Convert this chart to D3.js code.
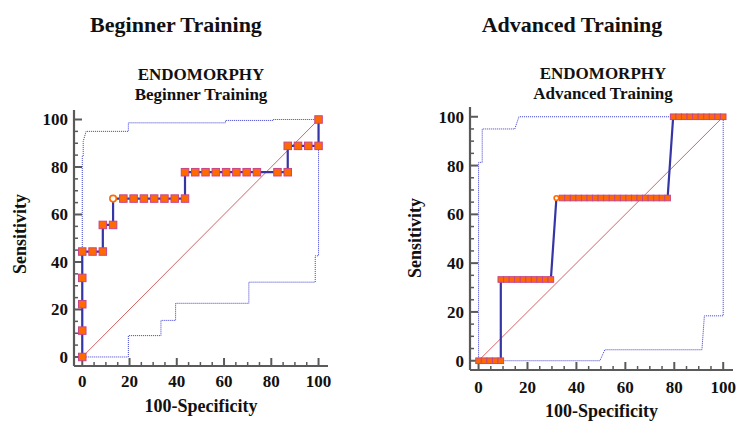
<!DOCTYPE html>
<html lang="en">
<head>
<meta charset="UTF-8">
<title>ROC Endomorphy</title>
<script src="https://d3js.org/d3.v7.min.js"></script>
<style>
  body { margin: 0; background: #fff; }
  text { font-family: "Liberation Serif", "Times New Roman", serif; font-weight: bold; fill: #111; }
</style>
</head>
<body>
<div id="chart"></div>
<script>
// ---- data ----
var panelTitles = ["Beginner Training", "Advanced Training"];
var plotTitle = "ENDOMORPHY";
var xTicks = [0, 20, 40, 60, 80, 100];
var yTicks = [0, 20, 40, 60, 80, 100];

// Beginner: ROC points (100-Specificity, Sensitivity)
var begX = [0, 0, 0, 0, 0, 4.35, 8.7, 8.7, 13.04, 13.04, 17.39, 21.74, 26.09, 30.43, 34.78, 39.13,
            43.48, 43.48, 47.83, 52.17, 56.52, 60.87, 65.22, 69.57, 73.91, 82.61, 86.96,
            86.96, 91.3, 95.65, 100, 100];
var begY = [0, 11.1, 22.2, 33.3, 44.4, 44.4, 44.4, 55.6, 55.6, 66.7, 66.7, 66.7, 66.7, 66.7, 66.7, 66.7,
            66.7, 77.8, 77.8, 77.8, 77.8, 77.8, 77.8, 77.8, 77.8, 77.8, 77.8,
            88.9, 88.9, 88.9, 88.9, 100];
var begBest = 9;
var begUpX = [0, 0, 0.4, 0.4, 1.6, 19.5, 19.5, 60.6, 60.6, 80.7, 80.7, 100];
var begUpY = [0, 84.5, 84.5, 90.8, 95, 95, 98.6, 98.6, 99.6, 99.6, 100, 100];
var begLoX = [0, 19.5, 19.5, 33.3, 33.3, 39.5, 39.5, 70.5, 70.5, 98.6, 98.6, 100, 100];
var begLoY = [0, 0, 9, 9, 15.4, 15.4, 22.6, 22.6, 31.5, 31.5, 42.6, 42.6, 100];

// Advanced: ROC points
var advX = [0, 2.27, 4.55, 6.82, 9.09,
            9.09, 11.36, 13.64, 15.91, 18.18, 20.45, 22.73, 25, 27.27, 29.55,
            31.82, 34.09, 36.36, 38.64, 40.91, 43.18, 45.45, 47.73, 50, 52.27, 54.55,
            56.82, 59.09, 61.36, 63.64, 65.91, 68.18, 70.45, 72.73, 75, 77.27,
            79.55, 81.82, 84.09, 86.36, 88.64, 90.91, 93.18, 95.45, 97.73, 100];
var advY = [0, 0, 0, 0, 0,
            33.3, 33.3, 33.3, 33.3, 33.3, 33.3, 33.3, 33.3, 33.3, 33.3,
            66.7, 66.7, 66.7, 66.7, 66.7, 66.7, 66.7, 66.7, 66.7, 66.7, 66.7,
            66.7, 66.7, 66.7, 66.7, 66.7, 66.7, 66.7, 66.7, 66.7, 66.7,
            100, 100, 100, 100, 100, 100, 100, 100, 100, 100];
var advBest = 15;
var advUpX = [0, 0, 1.5, 1.5, 14.8, 16.5, 100];
var advUpY = [0, 81.3, 81.3, 95, 95, 100, 100];
var advLoX = [0, 49.6, 51.6, 91.3, 92.3, 100, 100];
var advLoY = [0, 0, 4.5, 4.5, 18.4, 18.4, 100];

var W = 747, H = 437;
var svg = d3.select("#chart").append("svg")
    .attr("width", W).attr("height", H);

function zip(xs, ys) {
    return xs.map(function (x, i) { return [x, ys[i]]; });
}

function drawPanel(cfg) {
    var x = d3.scaleLinear().domain([-3.5, 104]).range(cfg.xr);
    var y = d3.scaleLinear().domain([-3.8, 104]).range(cfg.yr);
    var g = svg.append("g");
    var line = d3.line().x(function (d) { return x(d[0]); }).y(function (d) { return y(d[1]); });

    // titles
    g.append("text").attr("x", cfg.titleX).attr("y", 32).attr("text-anchor", "middle")
        .style("font-size", "22px").text(cfg.title);
    g.append("text").attr("x", cfg.subX).attr("y", cfg.subY).attr("text-anchor", "middle")
        .style("font-size", "17px").text(plotTitle);
    g.append("text").attr("x", cfg.subX).attr("y", cfg.subY + 20).attr("text-anchor", "middle")
        .style("font-size", "17px").text(cfg.title);

    // axes with inward ticks and minor ticks every 5
    var minor = d3.range(0, 101, 5).filter(function (v) { return v % 20 !== 0; });
    var axisCol = "#5a5a5a";
    var ax = g.append("g").attr("stroke", axisCol).attr("fill", "none");
    ax.append("line").attr("x1", x(-3.5)).attr("x2", x(-3.5)).attr("y1", y(104)).attr("y2", y(-3.8))
        .attr("stroke-width", 2.2);
    ax.append("line").attr("x1", x(-3.5)).attr("x2", x(104)).attr("y1", y(-3.8)).attr("y2", y(-3.8))
        .attr("stroke-width", 2.2);
    ax.selectAll(".ymaj").data(yTicks).enter().append("line")
        .attr("x1", x(-3.5)).attr("x2", x(-3.5) + 8).attr("y1", function (d) { return y(d); })
        .attr("y2", function (d) { return y(d); }).attr("stroke-width", 2);
    ax.selectAll(".ymin").data(minor).enter().append("line")
        .attr("x1", x(-3.5)).attr("x2", x(-3.5) + 4).attr("y1", function (d) { return y(d); })
        .attr("y2", function (d) { return y(d); }).attr("stroke-width", 1.5);
    ax.selectAll(".xmaj").data(xTicks).enter().append("line")
        .attr("y1", y(-3.8)).attr("y2", y(-3.8) - 8).attr("x1", function (d) { return x(d); })
        .attr("x2", function (d) { return x(d); }).attr("stroke-width", 2);
    ax.selectAll(".xmin").data(minor).enter().append("line")
        .attr("y1", y(-3.8)).attr("y2", y(-3.8) - 4).attr("x1", function (d) { return x(d); })
        .attr("x2", function (d) { return x(d); }).attr("stroke-width", 1.5);

    g.selectAll(".yl").data(yTicks).enter().append("text")
        .attr("x", x(-3.5) - 6).attr("y", function (d) { return y(d) + 6; })
        .attr("text-anchor", "end").style("font-size", "17px").text(function (d) { return d; });
    g.selectAll(".xl").data(xTicks).enter().append("text")
        .attr("x", function (d) { return x(d); }).attr("y", y(-3.8) + cfg.xlabOff)
        .attr("text-anchor", "middle").style("font-size", "17px").text(function (d) { return d; });

    g.append("text").attr("x", (x(-3.5) + x(104)) / 2).attr("y", cfg.xTitleY)
        .attr("text-anchor", "middle").style("font-size", "18px").text("100-Specificity");
    g.append("text").attr("transform", "translate(" + cfg.yTitleX + "," + cfg.yTitleY + ") rotate(-90)")
        .attr("text-anchor", "middle").style("font-size", "18px").text("Sensitivity");

    // reference diagonal
    g.append("path").attr("d", line([[0, 0], [100, 100]]))
        .attr("stroke", "#c83c3c").attr("stroke-width", 0.8).attr("fill", "none");

    // confidence bounds
    [cfg.up, cfg.lo].forEach(function (pts) {
        g.append("path").attr("d", line(pts)).attr("fill", "none")
            .attr("stroke", "#3a3ad0").attr("stroke-width", 1).attr("stroke-dasharray", "1,1");
    });

    // ROC curve
    g.append("path").attr("d", line(cfg.roc)).attr("fill", "none")
        .attr("stroke", "#3535a5").attr("stroke-width", 2.2);

    var s = cfg.mk;
    g.selectAll(".mk").data(cfg.roc.filter(function (d, i) { return i !== cfg.best; }))
        .enter().append("rect")
        .attr("x", function (d) { return x(d[0]) - s / 2; })
        .attr("y", function (d) { return y(d[1]) - s / 2; })
        .attr("width", s).attr("height", s)
        .attr("fill", "#ff6a00").attr("stroke", "#c8458a").attr("stroke-width", 1);
    var b = cfg.roc[cfg.best];
    g.append("circle").attr("cx", x(b[0])).attr("cy", y(b[1])).attr("r", s / 2 - 0.5)
        .attr("fill", "#fff").attr("stroke", "#ff6a00").attr("stroke-width", 1.6);
}

drawPanel({
    title: panelTitles[0], titleX: 176, subX: 201, subY: 80,
    xr: [74, 328], yr: [366, 110], xlabOff: 21, xTitleY: 412,
    yTitleX: 26, yTitleY: 234, mk: 7.5,
    roc: zip(begX, begY), best: begBest,
    up: zip(begUpX, begUpY), lo: zip(begLoX, begLoY)
});
drawPanel({
    title: panelTitles[1], titleX: 572, subX: 603, subY: 79,
    xr: [470, 733], yr: [370, 107], xlabOff: 23, xTitleY: 417,
    yTitleX: 421, yTitleY: 238, mk: 5.6,
    roc: zip(advX, advY), best: advBest,
    up: zip(advUpX, advUpY), lo: zip(advLoX, advLoY)
});
</script>
</body>
</html>
